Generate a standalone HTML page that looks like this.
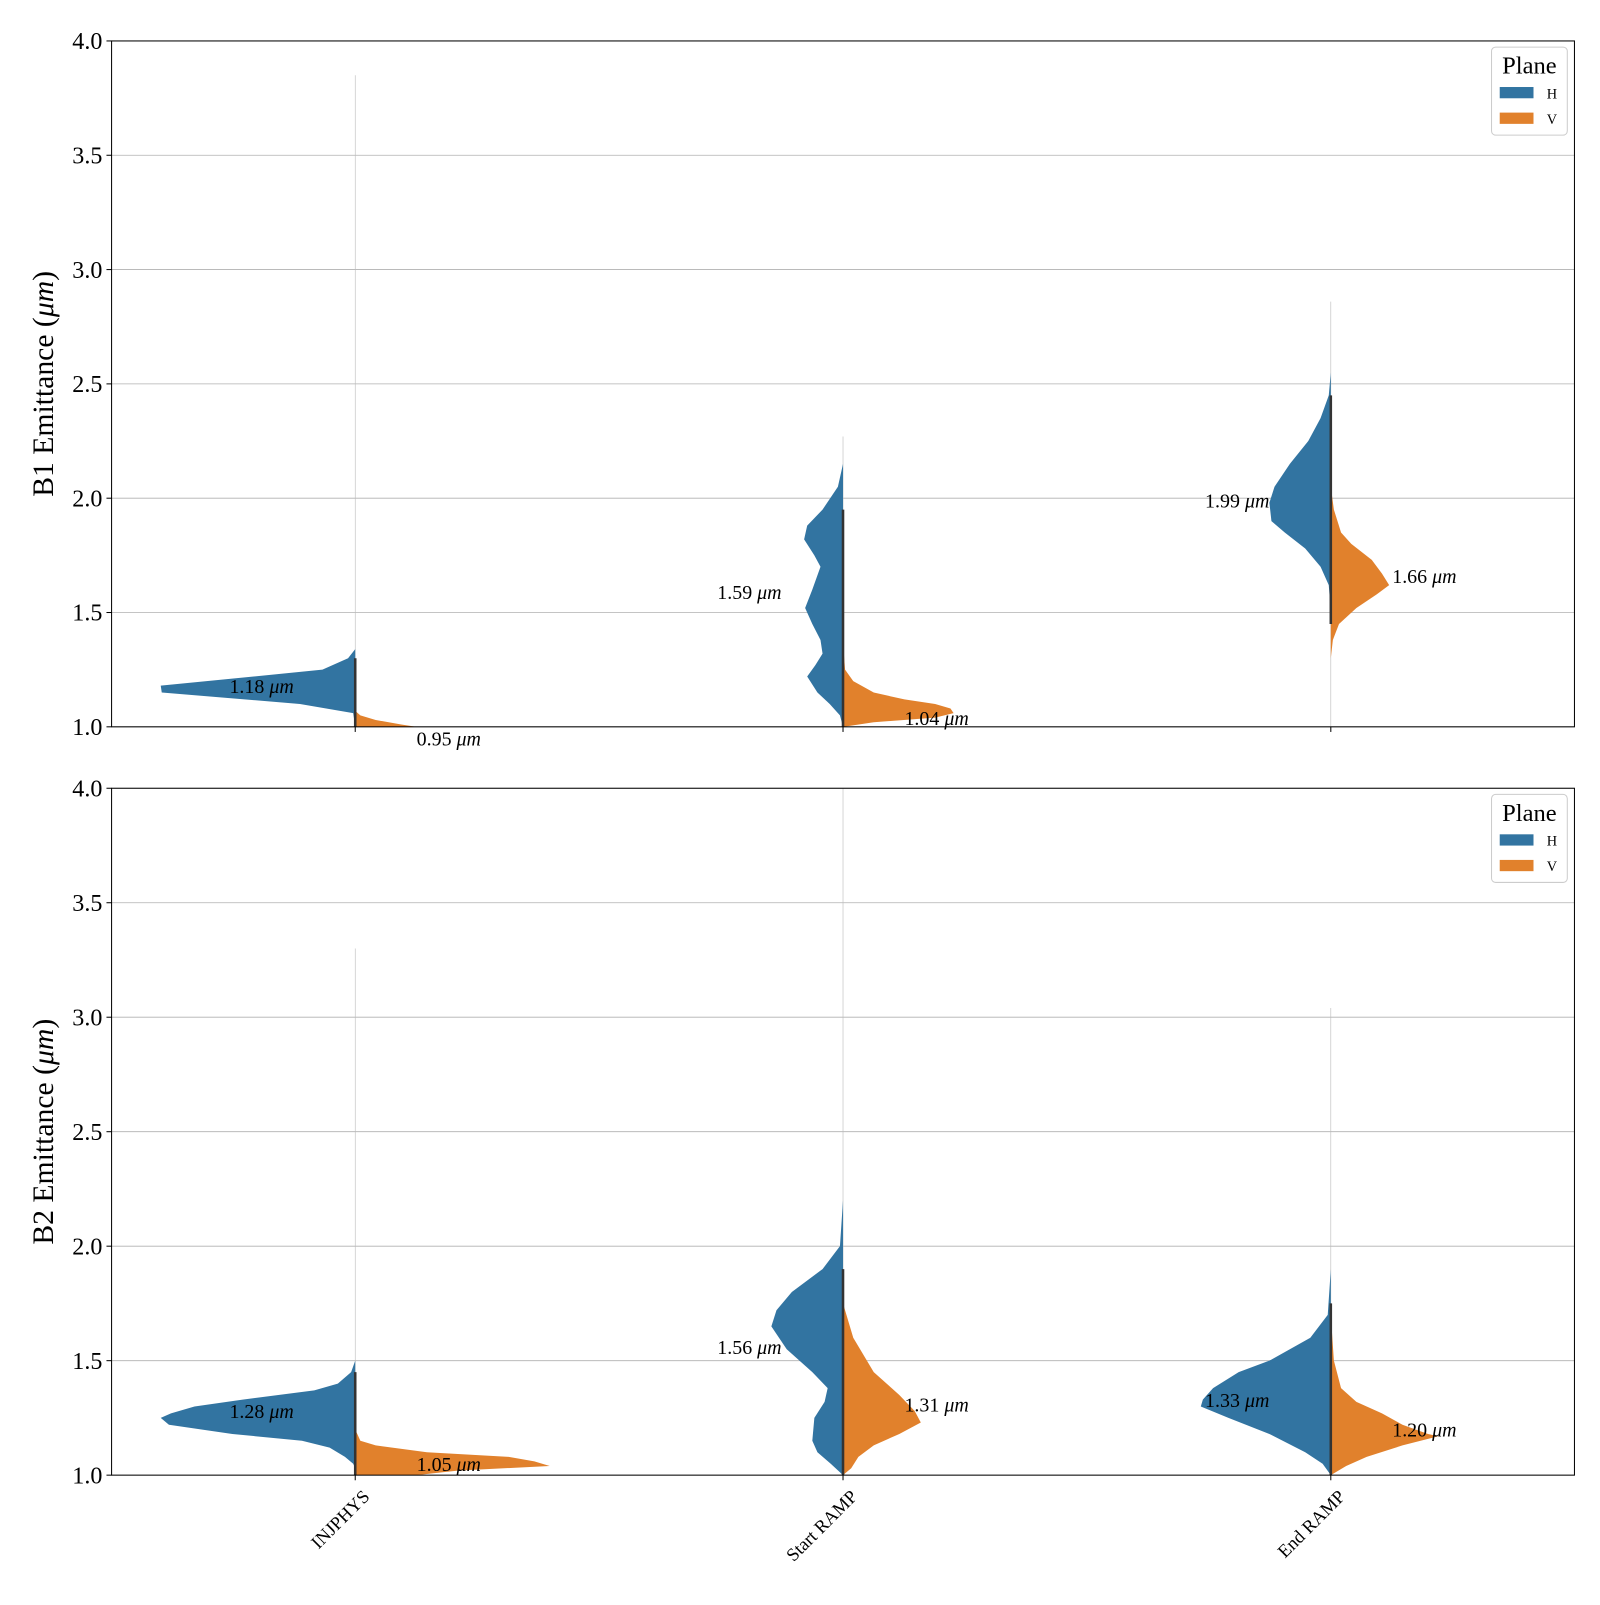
<!DOCTYPE html>
<html><head><meta charset="utf-8"><style>
body{margin:0;background:#fff}
svg text{font-family:"Liberation Serif",serif}
</style></head><body>
<svg width="1600" height="1600" xmlns="http://www.w3.org/2000/svg"><g id="chart" transform="scale(1.0237)"></g></svg>
<script>
const categories=["INJPHYS","Start RAMP","End RAMP"];
const yTicks=[1.0,1.5,2.0,2.5,3.0,3.5,4.0];
// density profiles: [value, half-width(px density units)]
const b1H=[
 [[1.34,0],[1.3,7],[1.25,32],[1.18,190],[1.15,189],[1.1,54],[1.06,2],[1.0,0]],
 [[2.15,0],[2.05,5],[1.95,20],[1.88,35],[1.82,38],[1.75,28],[1.7,22],[1.6,30],[1.52,37],[1.45,30],[1.38,22],[1.32,20],[1.27,27],[1.22,35],[1.15,25],[1.1,13],[1.05,3],[1.0,0]],
 [[2.55,0],[2.45,2],[2.35,10],[2.25,22],[2.15,40],[2.05,55],[1.98,60],[1.9,58],[1.85,45],[1.78,25],[1.7,10],[1.62,2],[1.5,0]]
];
const b1V=[
 [[1.07,0],[1.05,5],[1.03,20],[1.01,45],[1.0,60]],
 [[1.37,0],[1.25,2],[1.2,10],[1.15,30],[1.12,60],[1.1,90],[1.08,105],[1.06,108],[1.04,90],[1.02,30],[1.0,0]],
 [[2.05,0],[1.95,3],[1.85,10],[1.8,20],[1.73,40],[1.67,50],[1.62,57],[1.58,45],[1.52,25],[1.45,8],[1.38,2],[1.3,0]]
];
const b2H=[
 [[1.5,0],[1.45,4],[1.4,17],[1.37,40],[1.33,110],[1.3,157],[1.27,180],[1.25,190],[1.22,182],[1.18,120],[1.15,52],[1.12,25],[1.08,10],[1.05,2],[1.03,0]],
 [[2.2,0],[2.0,3],[1.9,20],[1.8,50],[1.72,65],[1.65,70],[1.55,55],[1.45,30],[1.38,15],[1.32,18],[1.25,28],[1.15,30],[1.1,25],[1.05,12],[1.0,0]],
 [[1.9,0],[1.7,3],[1.6,20],[1.5,60],[1.45,90],[1.38,115],[1.33,125],[1.3,127],[1.25,100],[1.18,60],[1.1,25],[1.05,8],[1.0,0]]
];
const b2V=[
 [[1.2,0],[1.15,5],[1.13,20],[1.1,70],[1.08,150],[1.06,175],[1.04,190],[1.02,100],[1.0,60]],
 [[1.75,0],[1.6,10],[1.45,30],[1.35,55],[1.28,70],[1.23,76],[1.18,55],[1.13,30],[1.08,15],[1.03,8],[1.0,0]],
 [[1.7,0],[1.5,3],[1.38,10],[1.32,25],[1.27,50],[1.22,70],[1.18,95],[1.17,105],[1.13,70],[1.08,35],[1.04,15],[1.0,0]]
];
const b1MedH=[1.18,1.59,1.99], b1MedV=[0.95,1.04,1.66];
const b2MedH=[1.28,1.56,1.33], b2MedV=[1.05,1.31,1.20];
const b1Max=[3.85,2.27,2.86], b2Max=[3.3,4.0,3.04];
const b1Iqr=[[1.0,1.3],[1.0,1.95],[1.45,2.45]], b2Iqr=[[1.0,1.45],[1.0,1.9],[1.0,1.75]];

const svg=document.getElementById('chart');
const NS='http://www.w3.org/2000/svg';
function mk(tag,attrs,parent){const e=document.createElementNS(NS,tag);for(const k in attrs)e.setAttribute(k,attrs[k]);(parent||svg).appendChild(e);return e;}
const X0=109,X1=1538;
const xPos=i=>347+i*476.5;
function panel(top,bottom,name,H,V,medH,medV,maxs,iqr,showX){
 const y=v=>bottom-(v-1)*(bottom-top)/3;
 const g=mk('g',{});
 
 
 const clip=mk('clipPath',{id:'c'+name},g);mk('rect',{x:X0,y:top,width:X1-X0,height:bottom-top},clip);
 yTicks.forEach(t=>{
  const l=mk('line',{x1:X0,x2:X1,y1:y(t),y2:y(t),stroke:'#b0b0b0','stroke-width':0.8},g);
  
  mk('line',{x1:X0-5,x2:X0,y1:y(t),y2:y(t),stroke:'#000'},g);
  const tx=mk('text',{x:X0-9,y:y(t)+8,'text-anchor':'end','font-size':23.5},g);tx.textContent=t.toFixed(1);
  
 });
 const cg=mk('g',{'clip-path':'url(#c'+name+')'},g);
 categories.forEach((c,i)=>{
  const cx=xPos(i);
  const wl=mk('line',{x1:cx,x2:cx,y1:y(maxs[i]),y2:y(1),stroke:'#bbb','stroke-width':0.6},cg);
  
  let d='M'+cx+' '+y(H[i][0][0]);
  H[i].forEach(p=>d+=' L'+(cx-p[1])+' '+y(p[0]));
  d+=' L'+cx+' '+y(H[i][H[i].length-1][0])+'Z';
  const ph=mk('path',{d:d,fill:'#3274a1'},cg);
  
  d='M'+cx+' '+y(V[i][0][0]);
  V[i].forEach(p=>d+=' L'+(cx+p[1])+' '+y(p[0]));
  d+=' L'+cx+' '+y(V[i][V[i].length-1][0])+'Z';
  const pv=mk('path',{d:d,fill:'#e1812c'},cg);
  
  const box=mk('line',{x1:cx,x2:cx,y1:y(iqr[i][1]),y2:y(iqr[i][0]),stroke:'#333','stroke-width':2.5},cg);
  
  const t1=mk('text',{x:cx-60,y:y(medH[i])+7,'text-anchor':'end','font-size':19.5},g);
  t1.innerHTML=medH[i].toFixed(2)+' <tspan font-style="italic">μm</tspan>';
  
  const t2=mk('text',{x:cx+60,y:y(medV[i])+7,'text-anchor':'start','font-size':19.5},g);
  t2.innerHTML=medV[i].toFixed(2)+' <tspan font-style="italic">μm</tspan>';
  
  mk('line',{x1:cx,x2:cx,y1:bottom,y2:bottom+5,stroke:'#000'},g);
  if(showX){
   const xt=mk('text',{x:cx+15,y:bottom+22,'text-anchor':'end','font-size':18,transform:'rotate(-45 '+(cx+15)+' '+(bottom+22)+')'},g);
   xt.textContent=c;
   
  }
 });
 mk('rect',{x:X0,y:top,width:X1-X0,height:bottom-top,fill:'none',stroke:'#000','stroke-width':1},g);
 const yl=mk('text',{x:52,y:(top+bottom)/2,'text-anchor':'middle','font-size':29,transform:'rotate(-90 52 '+(top+bottom)/2+')'},g);
 yl.innerHTML=name+' Emittance (<tspan font-style="italic">μm</tspan>)';
 
 const lg=mk('g',{},g);
 
 mk('rect',{x:1457,y:top+6,width:74,height:86,rx:4,fill:'#fff',stroke:'#ccc'},lg);
 const lt=mk('text',{x:1494,y:top+32,'text-anchor':'middle','font-size':24},lg);lt.textContent='Plane';
 [['H','#3274a1'],['V','#e1812c']].forEach((e,k)=>{
  const r=mk('rect',{x:1465,y:top+45+k*25,width:33,height:11,fill:e[1]},lg);
  
  const t=mk('text',{x:1511,y:top+56+k*25,'font-size':14},lg);t.textContent=e[0];
 });
}
panel(40,710,'B1',b1H,b1V,b1MedH,b1MedV,b1Max,b1Iqr,false);
panel(770,1441,'B2',b2H,b2V,b2MedH,b2MedV,b2Max,b2Iqr,true);
</script>
</body></html>
